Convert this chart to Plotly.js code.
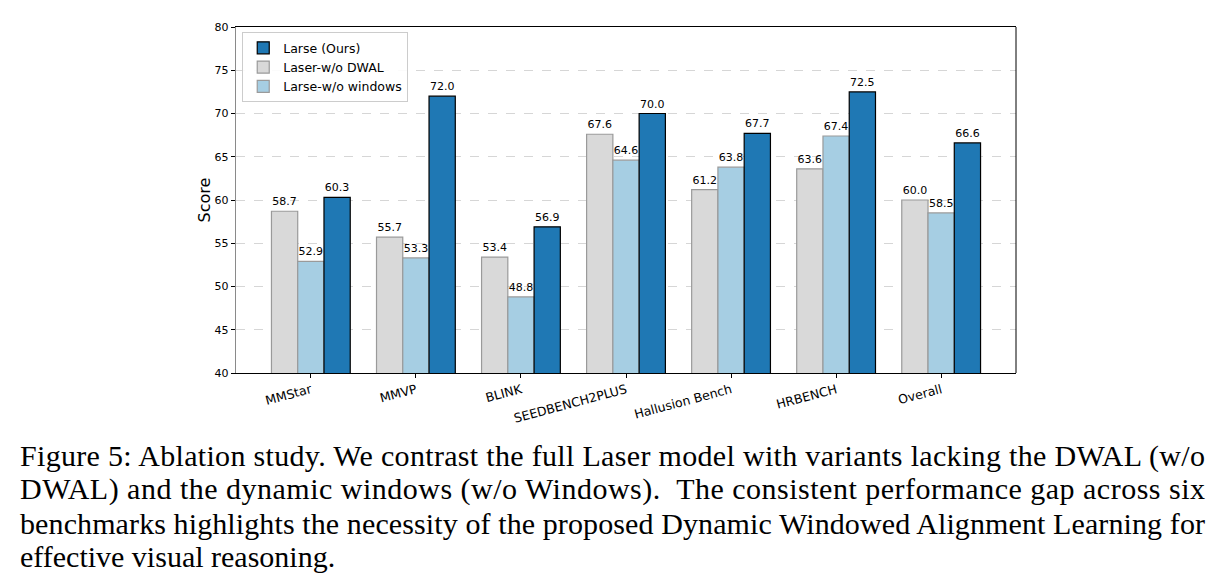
<!DOCTYPE html>
<html>
<head>
<meta charset="utf-8">
<script src="https://cdn.plot.ly/plotly-3.0.1.min.js"></script>
<style>
  html, body { margin: 0; padding: 0; background: #fff; }
  #chart { width: 1219px; height: 587px; }
</style>
</head>
<body>
<div id="chart"></div>
<script>
// Benchmarks on the x axis
const categories = ["MMStar", "MMVP", "BLINK", "SEEDBENCH2PLUS", "Hallusion Bench", "HRBENCH", "Overall"];

// Scores for each model variant
const fullModel   = [60.3, 72.0, 56.9, 70.0, 67.7, 72.5, 66.6];
const noDwal      = [58.7, 55.7, 53.4, 67.6, 61.2, 63.6, 60.0];
const noWindows   = [52.9, 53.3, 48.8, 64.6, 63.8, 67.4, 58.5];

const seriesNames = ["Larse (Ours)", "Laser-w/o DWAL", "Larse-w/o windows"];

// Figure caption, one entry per printed line
const captionLines = [
  "Figure 5: Ablation study. We contrast the full Laser model with variants lacking the DWAL (w/o",
  "DWAL) and the dynamic windows (w/o Windows).  The consistent performance gap across six",
  "benchmarks highlights the necessity of the proposed Dynamic Windowed Alignment Learning for",
  "effective visual reasoning."
];

const chartFont = "DejaVu Sans, sans-serif";

function barTrace(name, values, fill, edge, rank) {
  return {
    type: "bar",
    name: name,
    x: categories,
    y: values,
    marker: { color: fill, line: { color: edge, width: 1.2 } },
    text: values.map(v => v.toFixed(1)),
    textposition: "outside",
    textfont: { family: chartFont, size: 11, color: "#000" },
    cliponaxis: false,
    legendrank: rank,
    hoverinfo: "x+y+name"
  };
}

const traces = [
  barTrace(seriesNames[1], noDwal, "#d9d9d9", "#9a9a9a", 2),
  barTrace(seriesNames[2], noWindows, "#a6cee3", "#9a9a9a", 3),
  barTrace(seriesNames[0], fullModel, "#1f78b4", "#000000", 1)
];

// Caption lines placed below the plot, one annotation each
const annotations = captionLines.map((line, i) => ({
  xref: "paper", yref: "paper",
  x: -218 / 780, y: 0,
  xanchor: "left", yanchor: "bottom",
  align: "left",
  yshift: -102 - i * 33.3,
  text: line,
  showarrow: false,
  font: { family: "Liberation Serif, Times New Roman, serif", size: 30, color: "#000" }
}));

const layout = {
  width: 1219,
  height: 587,
  margin: { l: 236, r: 203, t: 27, b: 214 },
  paper_bgcolor: "#fff",
  plot_bgcolor: "#fff",
  font: { family: chartFont, size: 11, color: "#000" },
  barmode: "group",
  bargap: 0.25,
  bargroupgap: 0,
  showlegend: true,
  legend: {
    x: 0.008, y: 0.985, xanchor: "left", yanchor: "top",
    bgcolor: "rgba(255,255,255,0.9)",
    bordercolor: "#cccccc", borderwidth: 1,
    font: { family: chartFont, size: 12.5, color: "#000" },
    tracegroupgap: 0,
    itemwidth: 30
  },
  xaxis: {
    type: "category",
    range: [-0.7125, 6.7125],
    tickangle: -15,
    tickfont: { family: chartFont, size: 12.5, color: "#000" },
    ticks: "outside", ticklen: 4, tickcolor: "#000",
    showline: true, linecolor: "#000", linewidth: 1, mirror: true,
    showgrid: false, zeroline: false, fixedrange: true
  },
  yaxis: {
    range: [40, 80],
    dtick: 5,
    tick0: 40,
    tickfont: { family: chartFont, size: 11, color: "#000" },
    ticks: "outside", ticklen: 4, tickcolor: "#000",
    showline: true, linecolor: "#8a8a8a", linewidth: 1.2, mirror: false,
    showgrid: true, gridcolor: "#cccccc", griddash: "dash", gridwidth: 0.8,
    zeroline: false,
    title: { text: "Score", font: { family: chartFont, size: 16, color: "#000" }, standoff: 0 },
    fixedrange: true
  },
  shapes: [
    { type: "line", xref: "paper", yref: "paper", x0: 1, x1: 1, y0: 0, y1: 1,
      line: { color: "#000", width: 1 } }
  ],
  annotations: annotations
};

// Full-justify every caption line except the last one
function justifyCaption(gd) {
  const texts = gd.querySelectorAll(".annotation-text");
  texts.forEach((t, i) => {
    if (i < captionLines.length - 1) {
      t.setAttribute("text-anchor", "start");
      t.setAttribute("textLength", "1185");
      t.setAttribute("lengthAdjust", "spacing");
    }
  });
}

Plotly.newPlot("chart", traces, layout, { displayModeBar: false, staticPlot: true })
  .then(justifyCaption);
</script>
</body>
</html>
